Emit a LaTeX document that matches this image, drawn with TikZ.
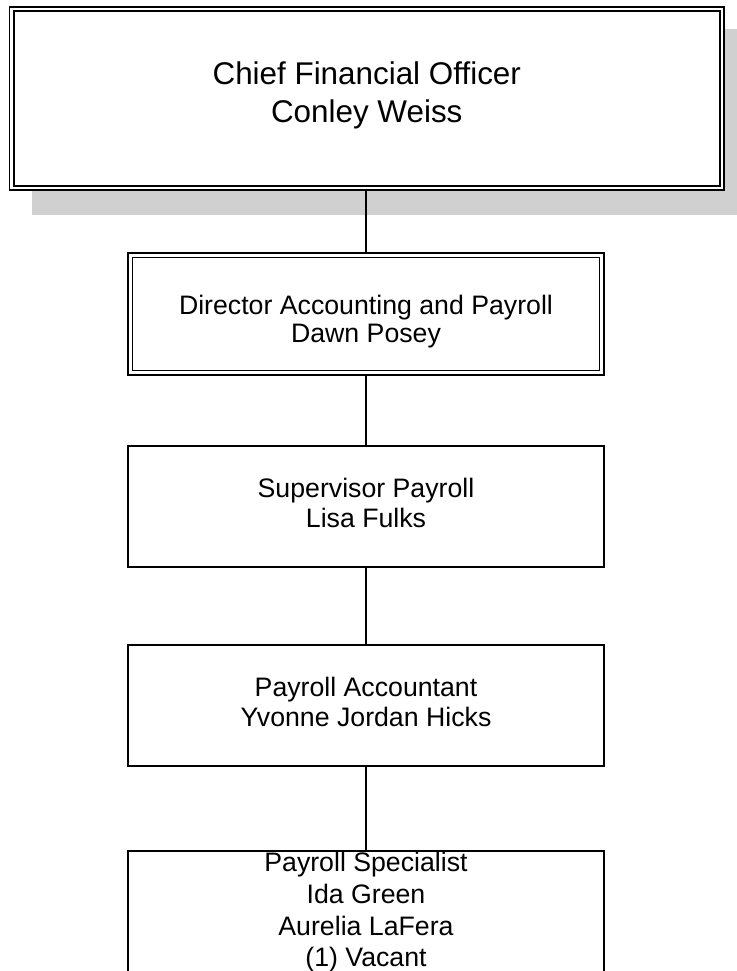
\documentclass[tikz,border=0pt]{standalone}
\usepackage{fontspec}
\setmainfont{Liberation Sans}
\usetikzlibrary{backgrounds}
\definecolor{shadowgray}{RGB}{208,208,208}
\begin{document}
\begin{tikzpicture}[x=1pt,y=-1pt,
  box/.style={draw=black, fill=white, line width=1.5pt, inner sep=0pt,
    minimum width=476pt, minimum height=121pt},
  label/.style={inner sep=0pt, align=center, font=\fontsize{26.7}{30}\selectfont},
  link/.style={draw=black, line width=1.4pt}]
\useasboundingbox (0,0) rectangle (736,971);

% Chief Financial Officer: double frame with a drop shadow
\node[box, minimum width=714.5pt, minimum height=183pt] (cfo) at (366.75,98.5) {};
\draw[line width=2pt] ([shift={(5,5)}]cfo.north west) rectangle ([shift={(-5,-5)}]cfo.south east);
\begin{scope}[on background layer]
  \fill[shadowgray] ([shift={(23.5,23)}]cfo.north west) rectangle ([shift={(23.5,24)}]cfo.south east);
\end{scope}
\node[label, font=\fontsize{31.4}{37.7}\selectfont] (cfotext) at (366.75,95.7)
  {Chief Financial Officer\\Conley Weiss};

% Director: double frame
\node[box, line width=1.2pt, minimum height=122pt] (dir) at (366,314) {};
\draw[line width=1.5pt] ([shift={(5,5)}]dir.north west) rectangle ([shift={(-5,-5)}]dir.south east);
\node[label, font=\fontsize{26.7}{28}\selectfont] (dirtext) at (366,322)
  {Director Accounting and Payroll\\Dawn Posey};

% Supervisor
\node[box] (sup) at (366,506.5) {};
\node[label] (suptext) at (366,502.5) {Supervisor Payroll\\Lisa Fulks};

% Accountant
\node[box] (acc) at (366,705.5) {};
\node[label, font=\fontsize{26.7}{29.7}\selectfont] (acctext) at (366,702)
  {Payroll Accountant\\Yvonne Jordan Hicks};

% Specialists (box runs past the lower edge)
\node[box, minimum height=150pt] (spec) at (366,926) {};
\node[label, font=\fontsize{26.7}{31.6}\selectfont] (spectext) at (366,912.4)
  {Payroll Specialist\\Ida Green\\Aurelia LaFera\\(1) Vacant};

% Reporting lines
\draw[link] (dir.north) -- (dir.north |- cfo.south);
\draw[link] (dir.south) -- (sup.north);
\draw[link] (sup.south) -- (acc.north);
\draw[link] (acc.south) -- (spec.north);
\end{tikzpicture}
\end{document}
